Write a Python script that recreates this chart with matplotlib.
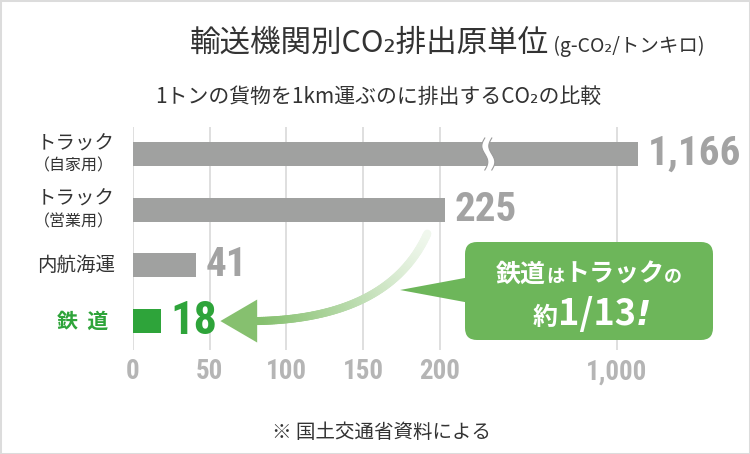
import numpy as np
import matplotlib
matplotlib.use('Agg')
import matplotlib.pyplot as plt
from matplotlib import font_manager as fm
from matplotlib.patches import FancyBboxPatch, Polygon, Rectangle
from matplotlib.collections import LineCollection
from matplotlib.transforms import IdentityTransform

# データ
cat_main = ['トラック', 'トラック', '内航海運', '鉄  道']
cat_sub = ['（自家用）', '（営業用）', '', '']
values = [1166, 225, 41, 18]
ticks = [0, 50, 100, 150, 200, 1000]

CJK = ['Noto Sans CJK JP', 'DejaVu Sans']
GRAY_BAR = '#a0a1a0'
GREEN = '#2ea43a'
TXT = '#333333'


def pick(names):
    # 細身の数字フォントがあればそれを使う
    for n in names:
        try:
            fm.findfont(fm.FontProperties(family=n), fallback_to_default=False)
            return n
        except ValueError:
            pass
    return 'DejaVu Sans'


NUMF = pick(['Roboto Condensed', 'DejaVu Sans Condensed', 'Liberation Sans Narrow',
             'Open Sans Condensed', 'Roboto'])

W, H = 750, 454
fig = plt.figure(figsize=(7.5, 4.54), dpi=100)
renderer = fig.canvas.get_renderer()

# 数字フォントの幅比率を測って文字サイズを決める
_t = fig.text(0, 0, '0000', fontsize=100, family=NUMF, fontweight='bold')
ratio = _t.get_window_extent(renderer).width / 4 / (100 * 100 / 72)
_t.remove()


def num_size(digit_w, height):
    em = min(height / 0.72, digit_w * 1.3 / ratio)
    return em * 72 / 100


ax = fig.add_axes([133 / W, 1 - 350 / H, 505 / W, 223 / H])

# 途中を詰めた横軸 (200〜1000 を圧縮)
kv = [-1000, 0, 200, 1000, 3000]
kp = [-1000, 0, 200, 315.5, 483.1]
ax.set_xscale('function', functions=(lambda v: np.interp(v, kv, kp),
                                     lambda p: np.interp(p, kp, kv)))
ax.set_xlim(0, 1166)
ax.set_ylim(3.52, -0.485)

y = np.arange(len(values))
bar_colors = [GRAY_BAR] * 3 + [GREEN]
ax.barh(y, values, height=0.43, color=bar_colors, zorder=2)

ax.set_xticks(ticks, labels=[f'{t:,}' for t in ticks],
              fontfamily=NUMF, fontweight='bold', fontsize=num_size(10.5, 22),
              color='#b5b5b5')
ax.xaxis.set_minor_locator(matplotlib.ticker.NullLocator())
ax.set_yticks([])
ax.grid(axis='x', color='#d9d9d9', lw=1.2, zorder=0)
ax.set_axisbelow(True)
for s in ax.spines.values():
    s.set_visible(False)
ax.tick_params(axis='x', length=0, pad=6)

# 値ラベル
for i, v in enumerate(values):
    green = i == len(values) - 1
    ax.annotate(f'{v:,}', xy=(v, i), xytext=(7, 0), textcoords='offset points',
                ha='left', va='center', fontfamily=NUMF, fontweight='bold',
                fontsize=num_size(18, 37) if green else num_size(16, 30),
                color=GREEN if green else '#a3a3a3', annotation_clip=False)

# カテゴリラベル
for i, (m, s) in enumerate(zip(cat_main, cat_sub)):
    green = i == len(values) - 1
    if s:
        ax.annotate(m, xy=(0, i), xycoords=('axes fraction', 'data'),
                    xytext=(-13, 7.5), textcoords='offset points', ha='right',
                    va='center', fontfamily=CJK, fontsize=14, color=TXT)
        ax.annotate(s, xy=(0, i), xycoords=('axes fraction', 'data'),
                    xytext=(-14, -8.5), textcoords='offset points', ha='right',
                    va='center', fontfamily=CJK, fontsize=11.5, color=TXT)
    else:
        ax.annotate(m, xy=(0, i), xycoords=('axes fraction', 'data'),
                    xytext=(-18 if green else -13, 0), textcoords='offset points',
                    ha='right', va='center', fontfamily=CJK,
                    fontsize=15 if green else 14,
                    fontweight='bold' if green else 'normal',
                    color=GREEN if green else TXT)

# 1,166 のバーの省略記号
xb, yb = ax.transData.transform((420, 0))
yy = np.linspace(yb - 16, yb + 16, 50)
wave = 3 * np.sin(np.pi * (yy - yb) / 16)
xl, xr = xb - 3.5 - wave, xb + 3.5 - wave
fig.add_artist(Polygon(np.column_stack([np.r_[xl, xr[::-1]], np.r_[yy, yy[::-1]]]),
                       closed=True, fc='white', ec='none',
                       transform=IdentityTransform(), zorder=3))
for xs in (xl, xr):
    fig.add_artist(plt.Line2D(xs, yy, color='#9a9a9a', lw=0.8,
                              transform=IdentityTransform(), zorder=3))

# 225 → 18 の曲線矢印 (グラデーション)
p0, pc, p2 = np.array([192, 1.43]), np.array([167, 2.95]), np.array([81, 3.0])
t = np.linspace(0, 1, 120)[:, None]
pts = (1 - t) ** 2 * p0 + 2 * (1 - t) * t * pc + t ** 2 * p2
segs = np.stack([pts[:-1], pts[1:]], axis=1)
a = 0.12 + 0.88 * np.linspace(0, 1, len(segs)) ** 1.3
arrow_rgb = np.array(matplotlib.colors.to_rgb('#86c06f'))
cols = (1 - a[:, None]) * 1.0 + a[:, None] * arrow_rgb
ax.add_collection(LineCollection(segs, colors=cols, linewidths=5.8,
                                 capstyle='round', zorder=4, clip_on=False))
ax.add_patch(Polygon([(57, 3.0), (81, 3.0 - 0.386), (81, 3.0 + 0.386)],
                     closed=True, fc='#86c06f', ec='none', zorder=5, clip_on=False))

# 吹き出し
BOX = '#6db65a'
fig.add_artist(FancyBboxPatch((465, H - 340), 248, 98,
                              boxstyle='round,pad=0,rounding_size=12',
                              fc=BOX, ec='none', transform=IdentityTransform()))
fig.add_artist(Polygon([(470, H - 277), (400, H - 290), (470, H - 303)],
                       closed=True, fc=BOX, ec='none', transform=IdentityTransform()))


def runs(parts, cx, base_y, color, left=None):
    texts = []
    for s, kw in parts:
        texts.append(fig.text(0, 0, s, transform=IdentityTransform(),
                              ha='left', va='baseline', color=color, **kw))
    widths = [tx.get_window_extent(renderer).width for tx in texts]
    x = cx - sum(widths) / 2 if left is None else left
    for tx, w in zip(texts, widths):
        tx.set_position((x, H - base_y))
        x += w


big = dict(family=CJK, fontsize=18, fontweight='bold')
small = dict(family=CJK, fontsize=13, fontweight='bold')
runs([('鉄道', big), ('は', small), ('トラック', big), ('の', small)], 589, 282, 'white')
runs([('約', big), ('1/13', dict(family=CJK, fontsize=26, fontweight='bold')),
      ('!', dict(family=['DejaVu Sans'], fontsize=24, fontweight='bold', style='italic'))],
     592, 325, 'white')

# タイトル
runs([('輸送機関別CO₂排出原単位', dict(family=CJK, fontsize=22)),
      (' (g-CO₂/トンキロ)', dict(family=CJK, fontsize=14))],
     451, 52, TXT, left=190)
fig.text(378 / W, 1 - 97 / H, '1トンの貨物を1km運ぶのに排出するCO₂の比較',
         ha='center', va='center', family=CJK, fontsize=15, color=TXT)
fig.text(382 / W, 1 - 433 / H, '※ 国土交通省資料による',
         ha='center', va='center', family=CJK, fontsize=14, color=TXT)

# 外枠
fig.add_artist(Rectangle((0, 0), 1, 1, transform=fig.transFigure, fill=False,
                         ec='#dcdcdc', lw=2.2))

fig.savefig('out.png', dpi=100)
